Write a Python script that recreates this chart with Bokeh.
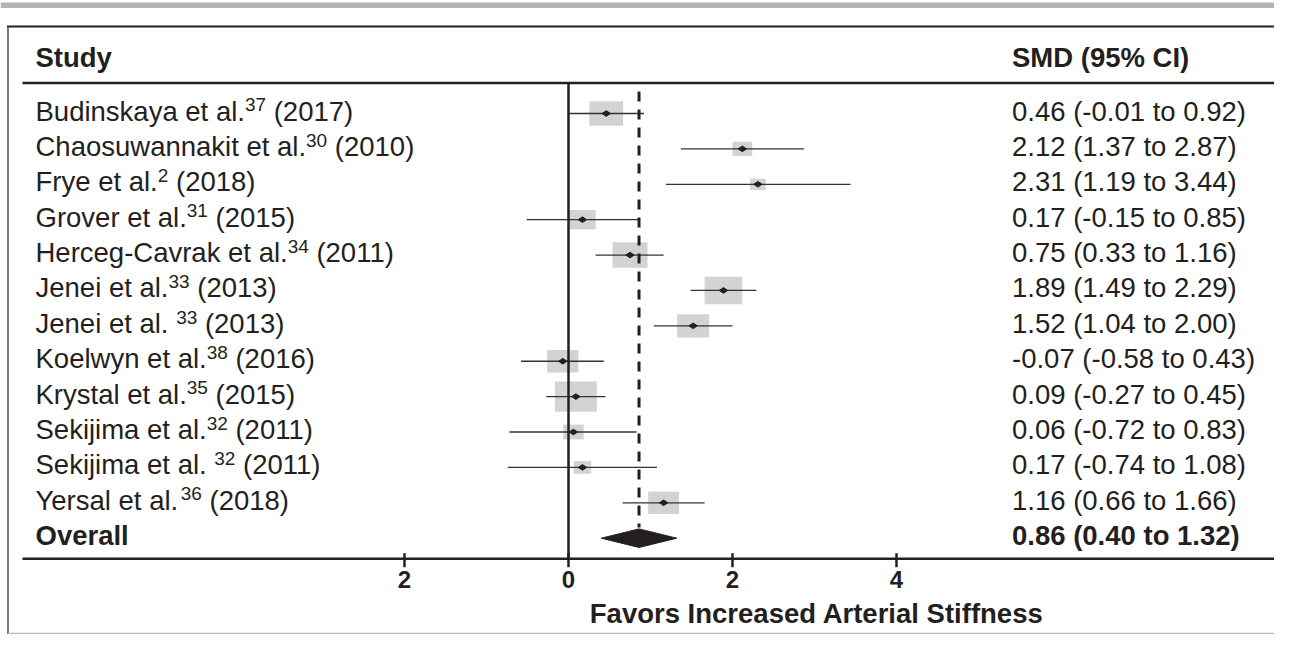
import numpy as np
from bokeh.plotting import figure
from bokeh.models import Range1d
from bokeh.core.properties import value
from bokeh.embed import file_html
from bokeh.resources import INLINE

# ---------------- data ----------------
authors = ["Budinskaya et al.", "Chaosuwannakit et al.", "Frye et al.", "Grover et al.",
           "Herceg-Cavrak et al.", "Jenei et al.", "Jenei et al. ", "Koelwyn et al.",
           "Krystal et al.", "Sekijima et al.", "Sekijima et al. ", "Yersal et al."]
refs = ["37", "30", "2", "31", "34", "33", "33", "38", "35", "32", "32", "36"]
years = ["2017", "2010", "2018", "2015", "2011", "2013", "2013", "2016", "2015", "2011", "2011", "2018"]
smd = [0.46, 2.12, 2.31, 0.17, 0.75, 1.89, 1.52, -0.07, 0.09, 0.06, 0.17, 1.16]
ci_low = [-0.01, 1.37, 1.19, -0.51, 0.33, 1.49, 1.04, -0.58, -0.27, -0.72, -0.74, 0.66]
ci_high = [0.92, 2.87, 3.44, 0.85, 1.16, 2.29, 2.00, 0.43, 0.45, 0.83, 1.08, 1.66]
ci_labels = ["0.46 (-0.01 to 0.92)", "2.12 (1.37 to 2.87)", "2.31 (1.19 to 3.44)",
             "0.17 (-0.15 to 0.85)", "0.75 (0.33 to 1.16)", "1.89 (1.49 to 2.29)",
             "1.52 (1.04 to 2.00)", "-0.07 (-0.58 to 0.43)", "0.09 (-0.27 to 0.45)",
             "0.06 (-0.72 to 0.83)", "0.17 (-0.74 to 1.08)", "1.16 (0.66 to 1.66)"]
weights = [10.8, 3.7, 2.3, 6.6, 11.6, 13.5, 9.7, 9.2, 16.6, 4.0, 2.9, 9.0]
overall_name = "Overall"
overall_smd = 0.86
overall_low = 0.40
overall_high = 1.32
overall_label = "0.86 (0.40 to 1.32)"
header_study = "Study"
header_smd = "SMD (95% CI)"
tick_values = [-2, 0, 2, 4]
tick_labels = ["2", "0", "2", "4"]
x_title = "Favors Increased Arterial Stiffness"

# ---------------- layout ----------------
W, H = 1274, 634
XS = 82.0     # px per SMD unit
X0 = 568.0    # px of SMD = 0
YS = 35.39    # px per row
Y0 = 113.0    # px of row 0


def dx(px):
    return (px - X0) / XS


def dy(py):
    return (py - Y0) / YS


ARIAL = {' ': 278, '(': 333, ')': 333, '-': 333, '.': 278, '%': 889}
for d in "0123456789":
    ARIAL[d] = 556
ARIAL.update(dict(A=667, B=667, C=722, D=722, E=667, F=611, G=778, H=722, I=278, J=500,
                  K=667, L=556, M=833, N=722, O=778, P=667, Q=778, R=722, S=667, T=611,
                  U=722, V=667, W=944, X=667, Y=667, Z=611))
ARIAL.update(dict(a=556, b=556, c=500, d=556, e=556, f=278, g=556, h=556, i=222, j=222,
                  k=500, l=222, m=833, n=556, o=556, p=556, q=556, r=333, s=500, t=278,
                  u=556, v=500, w=722, x=500, y=500, z=500))


def tw(s, size):
    return sum(ARIAL.get(c, 556) for c in s) / 1000.0 * size


K = 0.37   # empirical baseline correction (fraction of font size)


def base(py, size):
    return dy(py - K * size)


INK = "#231f20"
FONT = value("Liberation Sans")
FS = 27.5
SUP = 19.0
TICK = 24.0
LEFT = 35.0
RIGHT = 1011.5
BASE_OFF = 7.7

n = len(authors)
rows = list(range(n))
overall_row = n

p = figure(width=W, height=H, x_range=Range1d(dx(0), dx(W)), y_range=Range1d(dy(H), dy(0)),
           output_backend="svg", toolbar_location=None, min_border=0,
           x_axis_location=None, y_axis_location=None, outline_line_color=None,
           background_fill_color="white", border_fill_color="white")
p.grid.visible = False

# decoration: top grey band and frame
p.quad(left=dx(0), right=dx(W), top=dy(2), bottom=dy(7.5), fill_color="#b3b3b3", line_color=None)
p.segment(x0=dx(6.5), y0=dy(26), x1=dx(W), y1=dy(26), line_color=INK, line_width=2)
p.segment(x0=dx(7.5), y0=dy(26), x1=dx(7.5), y1=dy(H), line_color="#4d4d4d", line_width=1.5)
p.segment(x0=dx(7.5), y0=dy(H - 1), x1=dx(W), y1=dy(H - 1), line_color="#b8b8b8", line_width=1.5)

# header rule and axis rule
axis_y = dy(558.3)
p.segment(x0=dx(22), y0=dy(82.5), x1=dx(1277), y1=dy(82.5), line_color=INK, line_width=2.5)
p.segment(x0=dx(22), y0=axis_y, x1=dx(1277), y1=axis_y, line_color=INK, line_width=2.5)

# weight boxes
box_h = [7.45 * np.sqrt(w) for w in weights]
box_w = [1.38 * h for h in box_h]
p.rect(x=smd, y=rows, width=box_w, height=box_h, width_units="screen", height_units="screen",
       fill_color="#d1d3d4", line_color=None)

# confidence intervals
p.segment(x0=ci_low, y0=rows, x1=ci_high, y1=rows, line_color="#333333", line_width=1.3)

# null line and overall line
p.segment(x0=0, y0=dy(82.5), x1=0, y1=axis_y, line_color=INK, line_width=2.5)
p.segment(x0=overall_smd, y0=dy(91), x1=overall_smd, y1=dy(527), line_color=INK,
          line_width=3, line_dash="10 8")

# point estimates
p.scatter(x=smd, y=rows, marker="diamond", size=8.5, angle=np.pi / 2, fill_color=INK, line_color=INK)

# overall diamond
dh = 9.3 / YS
p.patch(x=[overall_low, overall_smd, overall_high, overall_smd],
        y=[overall_row, overall_row - dh, overall_row, overall_row + dh],
        fill_color=INK, line_color=INK, line_width=1)

# axis ticks and labels
p.segment(x0=tick_values, y0=[dy(552.7)] * len(tick_values), x1=tick_values,
          y1=[dy(566.7)] * len(tick_values), line_color=INK, line_width=2.5)
p.text(x=tick_values, y=[base(588.3, TICK)] * len(tick_values), text=tick_labels,
       text_align="center", text_baseline="alphabetic", text_font=FONT,
       text_font_size=f"{TICK}px", text_font_style="bold", text_color=INK)
p.text(x=[dx(589.3)], y=[base(623.3, FS)], text=[x_title], text_align="left",
       text_baseline="alphabetic", text_font=FONT, text_font_size=f"{FS}px",
       text_font_style="bold", text_color=INK)

# headers
p.text(x=[dx(LEFT), dx(RIGHT)], y=[base(66.7, FS)] * 2, text=[header_study, header_smd],
       text_align="left", text_baseline="alphabetic", text_font=FONT,
       text_font_size=f"{FS}px", text_font_style="bold", text_color=INK)

# study labels: name, superscript reference, year
sup_x = [dx(LEFT + tw(a, FS)) for a in authors]
year_x = [dx(LEFT + tw(a, FS) + tw(r, SUP) + tw(" ", FS)) for a, r in zip(authors, refs)]
main_off = BASE_OFF - K * FS
sup_off = BASE_OFF - 9.5 - K * SUP
p.text(x=[dx(LEFT)] * n, y=rows, text=[a.strip() for a in authors], y_offset=main_off,
       text_align="left", text_baseline="alphabetic", text_font=FONT,
       text_font_size=f"{FS}px", text_color=INK)
p.text(x=sup_x, y=rows, text=refs, y_offset=sup_off,
       text_align="left", text_baseline="alphabetic", text_font=FONT,
       text_font_size=f"{SUP}px", text_color=INK)
p.text(x=year_x, y=rows, text=["(" + y + ")" for y in years], y_offset=main_off,
       text_align="left", text_baseline="alphabetic", text_font=FONT,
       text_font_size=f"{FS}px", text_color=INK)

# effect size column
p.text(x=[dx(RIGHT)] * n, y=rows, text=ci_labels, y_offset=main_off,
       text_align="left", text_baseline="alphabetic", text_font=FONT,
       text_font_size=f"{FS}px", text_color=INK)

# overall row text
p.text(x=[dx(LEFT), dx(RIGHT)], y=[overall_row] * 2, text=[overall_name, overall_label],
       y_offset=main_off, text_align="left", text_baseline="alphabetic", text_font=FONT,
       text_font_size=f"{FS}px", text_font_style="bold", text_color=INK)

open("out.html", "w").write(file_html(p, INLINE))
